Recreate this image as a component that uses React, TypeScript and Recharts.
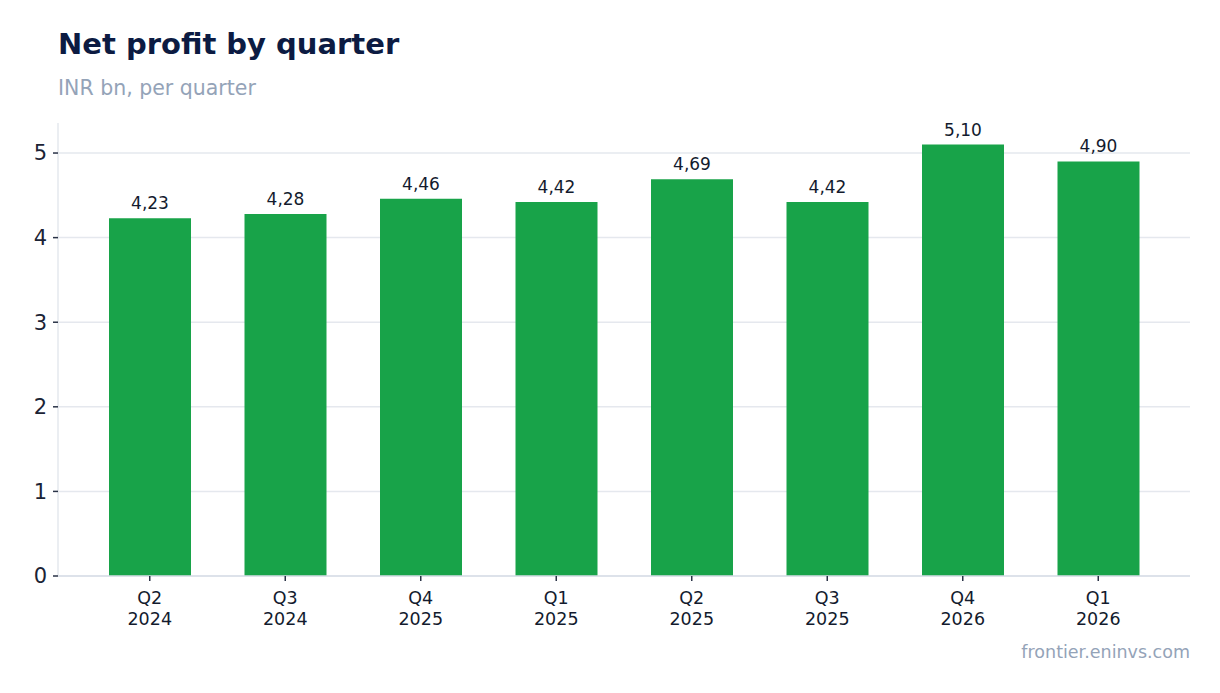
import React from 'react';
import { BarChart, Bar, XAxis, YAxis, CartesianGrid, LabelList } from 'recharts';

const quarters = ['Q2', 'Q3', 'Q4', 'Q1', 'Q2', 'Q3', 'Q4', 'Q1'];
const years = ['2024', '2024', '2025', '2025', '2025', '2025', '2026', '2026'];
const profits = [4.23, 4.28, 4.46, 4.42, 4.69, 4.42, 5.1, 4.9];
const yTicks = [0, 1, 2, 3, 4, 5];
const yMax = 5.355;

const data = quarters.map((q, i) => ({ label: `${q}\n${years[i]}`, profit: profits[i] }));

const FONT = '"DejaVu Sans", sans-serif';

function QuarterTick(props: any) {
    const { x, y, payload } = props;
    const [q, yr] = String(payload.value).split('\n');
    return (
        <g transform={`translate(${x},${y})`}>
            <text textAnchor="middle" fontSize={17.5} fill="#131b2e" fontFamily={FONT}>
                <tspan x={0} dy={21}>{q}</tspan>
                <tspan x={0} dy={21}>{yr}</tspan>
            </text>
        </g>
    );
}

// grid lines only at the y ticks (no extra line at the top edge)
function gridRows(args: any) {
    const sc = args?.yAxis?.scale;
    if (typeof sc === 'function') return yTicks.map((t) => sc(t));
    const { offset } = args;
    return yTicks.map((t) => offset.top + offset.height * (1 - t / yMax));
}

export default function App() {
    return (
        <div style={{ position: 'absolute', left: 0, top: 0, width: 1220, height: 693, background: '#fff', fontFamily: FONT }}>
            <div style={{ position: 'absolute', left: 58, top: 27, fontSize: 29, fontWeight: 700, color: '#0c1b42', whiteSpace: 'nowrap' }}>
                Net profit by quarter
            </div>
            <div style={{ position: 'absolute', left: 58, top: 76, fontSize: 20.5, color: '#94a3b8', whiteSpace: 'nowrap' }}>
                INR bn, per quarter
            </div>
            <BarChart
                width={1220}
                height={693}
                data={data}
                margin={{ top: 123, right: 30, left: 0, bottom: 57 }}
                barSize={82}
            >
                <CartesianGrid
                    vertical={false}
                    stroke="#e5e8ee"
                    strokeWidth={1.5}
                    horizontalCoordinatesGenerator={gridRows}
                />
                <XAxis
                    dataKey="label"
                    height={60}
                    padding={{ left: 24, right: 24 }}
                    tick={<QuarterTick />}
                    axisLine={{ stroke: '#d9dee7', strokeWidth: 1.5 }}
                    tickLine={{ stroke: '#2a3347', strokeWidth: 1.5 }}
                    tickSize={5}
                    interval={0}
                />
                <YAxis
                    width={58}
                    domain={[0, yMax]}
                    ticks={yTicks}
                    tick={{ fontSize: 21, fill: '#1b2335', fontFamily: FONT }}
                    axisLine={{ stroke: '#e5e8ee', strokeWidth: 1.5 }}
                    tickLine={{ stroke: '#2a3347', strokeWidth: 1.5 }}
                    tickSize={5}
                    tickMargin={6}
                />
                <Bar dataKey="profit" fill="#18a349" isAnimationActive={false}>
                    <LabelList
                        dataKey="profit"
                        position="top"
                        offset={9}
                        formatter={(v: any) => Number(v).toFixed(2).replace('.', ',')}
                        style={{ fontSize: 17, fill: '#131b2e', fontFamily: FONT }}
                    />
                </Bar>
            </BarChart>
            <div style={{ position: 'absolute', right: 30, top: 642, fontSize: 17.5, color: '#94a3b8', whiteSpace: 'nowrap' }}>
                frontier.eninvs.com
            </div>
        </div>
    );
}
